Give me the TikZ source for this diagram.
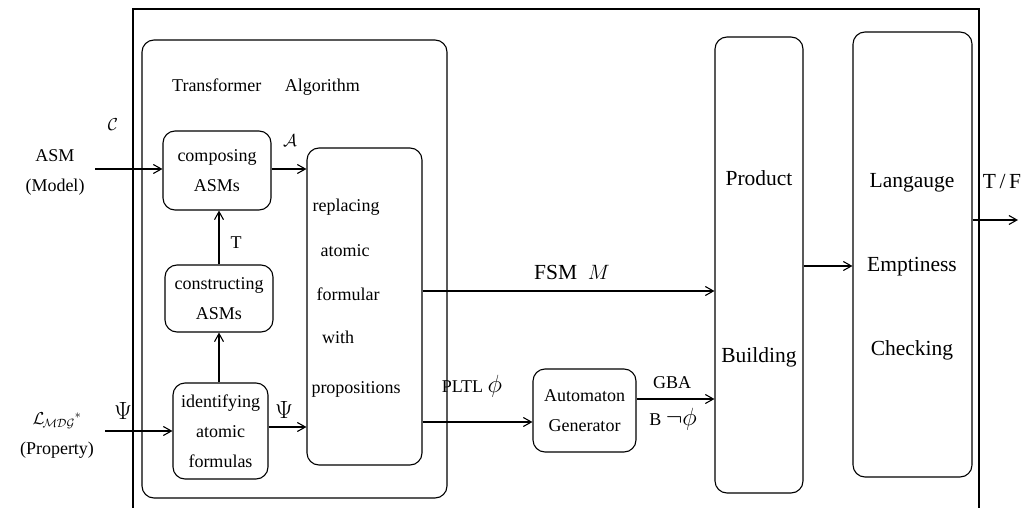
\documentclass[tikz,border=0pt]{standalone}
\usepackage{fontspec}
\setmainfont{Liberation Serif}
\usetikzlibrary{arrows.meta,positioning}
\newcommand{\symbig}[1]{{\fontsize{25}{25}\selectfont$#1$}}

\begin{document}
\begin{tikzpicture}[x=1pt,y=-1pt,line width=1.1pt,
    font=\fontsize{18}{30}\selectfont,
    blk/.style={draw,rounded corners=12pt,inner sep=0pt,align=center},
    arr/.style={-{Straight Barb[length=8pt,width=9pt]}},
    lbl/.style={inner sep=0pt,align=center},
    bigl/.style={lbl,font=\fontsize{21.5}{26}\selectfont}]
  \useasboundingbox (0,0) rectangle (1030,508);

  %% outer frame (open at the bottom)
  \draw (133,508) -- (133,9) -- (979,9) -- (979,508);

  %% Transformer algorithm
  \node[blk,minimum width=305pt,minimum height=458pt] (trans) at (294.5,269) {};
  \node[lbl] (transtxt) at (266,87) {Transformer\hspace{1.3em}Algorithm};
  \node[blk,minimum width=108pt,minimum height=79pt] (compose) at (217,170.5)
        {composing\\ASMs};
  \node[blk,minimum width=108pt,minimum height=67pt] (construct) at (219,298.5)
        {constructing\\ASMs};
  \node[blk,minimum width=95pt,minimum height=96pt] (identify) at (220.5,431)
        {identifying\\atomic\\formulas};
  \node[blk,minimum width=115pt,minimum height=317pt] (replace) at (364.5,306.5) {};
  \node[lbl] (rep1) at (346,207) {replacing};
  \node[lbl] (rep2) at (345,251) {atomic};
  \node[lbl] (rep3) at (348,294) {formular};
  \node[lbl] (rep4) at (338,337) {with};
  \node[lbl] (rep5) at (356,389) {propositions};

  %% automaton, product, emptiness check
  \node[blk,minimum width=103pt,minimum height=83pt] (autogen) at (584.5,410.5)
        {Automaton\\Generator};
  \node[blk,minimum width=88pt,minimum height=456pt] (product) at (759,265) {};
  \node[bigl] (prod1) at (759,178) {Product};
  \node[bigl] (prod2) at (759,357) {Building};
  \node[blk,minimum width=119pt,minimum height=445pt] (lang) at (912.5,254.5) {};
  \node[bigl] (lang1) at (912,183) {Langauge};
  \node[bigl] (lang2) at (912,267) {Emptiness};
  \node[bigl] (lang3) at (912,350) {Checking};

  %% inputs
  \node[lbl] (asm) at (55,172) {ASM\\(Model)};
  \node[lbl] (cset) at (113,125) {$\mathcal{C}$};
  \node[lbl] (prop) at (57,436) {$\mathcal{L}_{\!\mathcal{MDG}}{}^{*}$\\(Property)};
  \node[lbl] (psiin) at (123,411) {\symbig{\Psi}};
  \coordinate (asmin) at (95,169);
  \coordinate (propin) at (105,431);
  \coordinate (out) at (1018,220);

  %% connectors
  \draw[arr] (asmin) -- (asmin -| compose.west);
  \draw[arr] (propin) -- (propin -| identify.west);
  \draw[arr] (compose.east |- asmin) -- (replace.west |- asmin);
  \draw[arr] (construct.north) -- (construct.north |- compose.south);
  \draw[arr] (identify.north -| construct.north) -- (construct.south);
  \draw[arr] ([yshift=4pt]identify.east) -- ([yshift=4pt]identify.east -| replace.west);
  \draw[arr] (replace.east |- 0,291) -- (product.west |- 0,291);
  \draw[arr] (replace.east |- 0,422) -- (autogen.west |- 0,422);
  \draw[arr] (autogen.east |- 0,399) -- (product.west |- 0,399);
  \draw[arr] (product.east |- 0,266) -- (lang.west |- 0,266);
  \draw[arr] (lang.east |- out) -- (out);

  %% connector labels
  \node[lbl] (alabel) at (290,141) {$\mathcal{A}$};
  \node[lbl] (tlabel) at (236,243) {T};
  \node[lbl] (psiout) at (284,410) {\symbig{\Psi}};
  \node[bigl] (fsm) at (572,272) {FSM\ \ $M$};
  \node[lbl] (pltl) at (472,386) {PLTL \symbig{\phi}};
  \node[lbl] (gba) at (672,383) {GBA};
  \node[lbl] (bneg) at (673,419) {B \symbig{\neg\phi}};
  \node[bigl] (tf) at (1002,182) {T\,/\,F};
\end{tikzpicture}
\end{document}
